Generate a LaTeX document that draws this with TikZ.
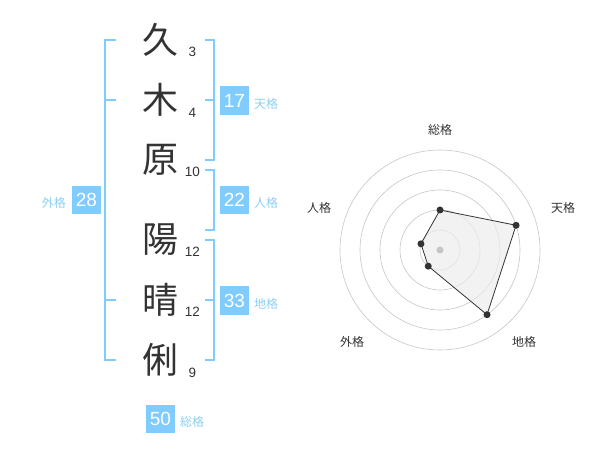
\documentclass[tikz,border=0pt]{standalone}
\usepackage{fontspec}
\setmainfont{Liberation Sans}
\newfontfamily\jpfont{Noto Sans CJK JP}
\usetikzlibrary{positioning}
\definecolor{kakublue}{HTML}{80CCFF}
\definecolor{kakutext}{HTML}{8CCFF5}
\definecolor{moji}{HTML}{333333}
\tikzset{
  kanji/.style={font=\jpfont\fontsize{36}{36}\selectfont,text=moji,inner sep=0pt},
  kakusu/.style={font=\fontsize{13.5}{14}\selectfont,text=moji,inner sep=0pt},
  kaku/.style={fill=kakublue,text=white,minimum size=28.5pt,inner sep=0pt,font=\fontsize{19}{19}\selectfont},
  kakuname/.style={font=\jpfont\fontsize{12}{12}\selectfont,text=kakutext,inner sep=0pt},
  waku/.style={draw=kakublue,line width=2pt},
  radarname/.style={font=\jpfont\fontsize{12}{12}\selectfont,text=moji,inner sep=0pt},
  ten/.style={circle,fill=moji,minimum size=7pt,inner sep=0pt},
}
\begin{document}
\begin{tikzpicture}[x=1pt,y=-1pt]
\useasboundingbox (0,0) rectangle (600,470);
% Nombre y trazos
\node[kanji] (k1) at (160,40) {久};
\node[kanji] (k2) at (160,100) {木};
\node[kanji] (k3) at (160,160) {原};
\node[kanji] (k4) at (160,240) {陽};
\node[kanji] (k5) at (160,300) {晴};
\node[kanji] (k6) at (160,360) {俐};
\node[kakusu] (s1) at (192.5,52) {3};
\node[kakusu] (s2) at (192.5,113) {4};
\node[kakusu] (s3) at (192.5,172) {10};
\node[kakusu] (s4) at (192.5,252) {12};
\node[kakusu] (s5) at (192.5,312) {12};
\node[kakusu] (s6) at (192.5,372.5) {9};
% Corchetes
\draw[waku] (116,40) -- (105,40) -- (105,360) -- (116,360);
\draw[waku] (105,100) -- (116,100);
\draw[waku] (105,300) -- (116,300);
\draw[waku] (205,40) -- (214,40) -- (214,160) -- (205,160);
\draw[waku] (205,100) -- (214,100);
\draw[waku] (205,170) -- (214,170) -- (214,230) -- (205,230);
\draw[waku] (205,240) -- (214,240) -- (214,360) -- (205,360);
\draw[waku] (205,300) -- (214,300);
% Cajas
\node[kaku] (gai) at (86.5,200) {28};
\node[kakuname,left=6pt of gai,yshift=-3pt] (gain) {外格};
\node[kaku] (tenk) at (234.5,100.5) {17};
\node[kakuname,right=5pt of tenk,yshift=-3pt] (tenn) {天格};
\node[kaku] (jin) at (234.5,200) {22};
\node[kakuname,right=5pt of jin,yshift=-3pt] (jinn) {人格};
\node[kaku] (chi) at (234.5,300.5) {33};
\node[kakuname,right=5pt of chi,yshift=-3pt] (chin) {地格};
\node[kaku] (sou) at (160.5,419) {50};
\node[kakuname,right=5pt of sou,yshift=-3pt] (soun) {総格};
% Radar
\begin{scope}[shift={(440,250)},yscale=-1]
\foreach \r in {20,40,60,80,100}
  \draw[gray!45,line width=.6pt] (0,0) circle (\r);
\coordinate (rsou) at (90:40);
\coordinate (rten) at (18:80);
\coordinate (rchi) at (-54:80);
\coordinate (rgai) at (-126:20);
\coordinate (rjin) at (162:20);
\draw[moji,line width=.8pt,fill=gray!15,fill opacity=.7] (rsou) -- (rten) -- (rchi) -- (rgai) -- (rjin) -- cycle;
\fill[gray!45] (0,0) circle (3.5);
\foreach \p in {rsou,rten,rchi,rgai,rjin}
  \node[ten] at (\p) {};
\node[radarname] (lsou) at (0,120) {総格};
\node[radarname] (lten) at (123,42) {天格};
\node[radarname] (lchi) at (84,-92) {地格};
\node[radarname] (lgai) at (-88,-92) {外格};
\node[radarname] (ljin) at (-121,42) {人格};
\end{scope}
\end{tikzpicture}
\end{document}
